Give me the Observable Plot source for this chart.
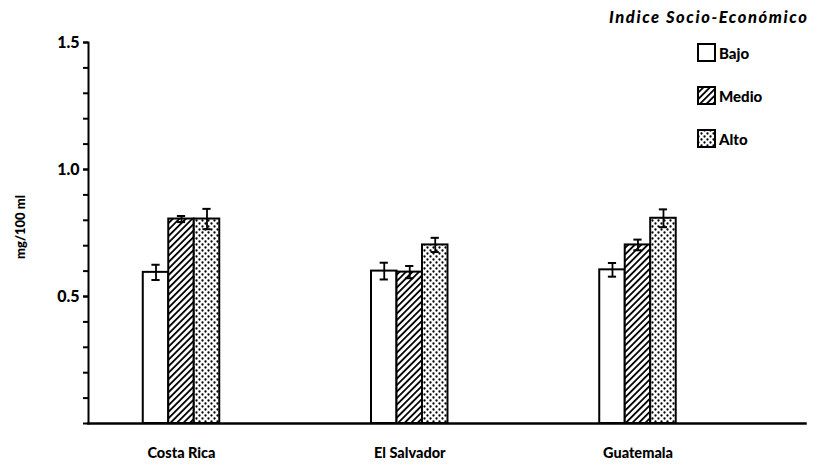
<!DOCTYPE html>
<html><head><meta charset="utf-8">
<script src="https://cdn.jsdelivr.net/npm/d3@7"></script>
<script src="https://cdn.jsdelivr.net/npm/@observablehq/plot@0.6"></script>
<style>
body{margin:0;background:#fff;}
#wrap{position:relative;width:815px;height:470px;font-family:Lato,"DejaVu Sans",sans-serif;color:#000;}
#legend{position:absolute;left:0;top:0;width:815px;height:160px;pointer-events:none;}
#legend .title{position:absolute;left:609px;top:7px;font-size:16.5px;font-weight:900;font-style:italic;letter-spacing:1.6px;white-space:nowrap;}
#legend .item{position:absolute;left:697px;display:flex;align-items:center;font-size:15px;font-weight:900;white-space:nowrap;}
#legend .item svg{margin-right:3px;}
</style></head><body>
<div id="wrap"><div id="legend"></div></div>
<script>
// ---- data ----
const countries = ["Costa Rica", "El Salvador", "Guatemala"];
const levels = ["Bajo", "Medio", "Alto"];
const bajo  = [0.595, 0.600, 0.605];
const medio = [0.805, 0.596, 0.703];
const alto  = [0.805, 0.703, 0.808];
const bajoErr  = [0.030, 0.033, 0.027];
const medioErr = [0.012, 0.024, 0.021];
const altoErr  = [0.040, 0.028, 0.035];
const yLabelTicks = [0.5, 1.0, 1.5];
const yMinorTicks = d3.range(0, 16).map(d => d / 10);
const legendTitle = "Indice Socio-Económico";
const yLabel = "mg/100 ml";

const values = [bajo, medio, alto];
const errors = [bajoErr, medioErr, altoErr];
const fills = ["white", "url(#hatchMedio)", "url(#dotsAlto)"];
const bw = 0.1117;   // bar width in group units
const cap = 0.018;   // half cap width

const rows = countries.flatMap((c, i) => levels.map((l, j) => ({
  country: c, ci: i, level: l, lj: j,
  value: values[j][i], err: errors[j][i], fill: fills[j],
  cx: i + (j - 1) * bw
})));

const svg = Plot.plot({
  width: 815, height: 470,
  marginLeft: 88, marginRight: 10, marginTop: 42, marginBottom: 47,
  style: {fontFamily: "Lato, 'DejaVu Sans', sans-serif", fontWeight: 900, background: "white", color: "black", overflow: "visible"},
  x: {domain: [-0.4075, 2.734], axis: null},
  y: {domain: [0, 1.5], axis: null},
  color: {type: "identity"},
  marks: [
    Plot.rectY(rows, {x1: d => d.cx - bw / 2, x2: d => d.cx + bw / 2, y1: 0, y2: "value", fill: "fill", stroke: "black", strokeWidth: 2}),
    Plot.ruleX(rows, {x: "cx", y1: d => d.value - d.err, y2: d => d.value + d.err, stroke: "black", strokeWidth: 1.8}),
    Plot.ruleY(rows, {x1: d => d.cx - cap, x2: d => d.cx + cap, y: d => d.value + d.err, stroke: "black", strokeWidth: 2}),
    Plot.ruleY(rows, {x1: d => d.cx - cap, x2: d => d.cx + cap, y: d => d.value - d.err, stroke: "black", strokeWidth: 2}),
    Plot.frame({anchor: "left", stroke: "black", strokeWidth: 2}),
    Plot.frame({anchor: "bottom", stroke: "black", strokeWidth: 2.5}),
    Plot.axisY(yMinorTicks, {tickSize: 5, tickFormat: () => "", strokeWidth: 2, label: null}),
    Plot.axisY(yLabelTicks, {tickSize: 5, tickPadding: 4, strokeWidth: 2, tickFormat: d3.format(".1f"), fontSize: 16, label: null}),
    Plot.text([yLabel], {frameAnchor: "left", rotate: -90, dx: -68, dy: 26, fontSize: 13, fontWeight: 900}),
    Plot.axisX(countries.map((c, i) => i), {tickSize: 0, tickPadding: 24, tickFormat: i => countries[i], fontSize: 14.5, label: null})
  ]
});

d3.select(svg).insert("defs", ":first-child").html(`
  <pattern id="hatchMedio" patternUnits="userSpaceOnUse" width="4.6" height="4.6" patternTransform="rotate(45)">
    <rect width="4.6" height="4.6" fill="white"/>
    <line x1="0" y1="0" x2="0" y2="4.6" stroke="black" stroke-width="3.6"/>
  </pattern>
  <pattern id="dotsAlto" patternUnits="userSpaceOnUse" width="6" height="6">
    <rect width="6" height="6" fill="white"/>
    <circle cx="1.5" cy="1.5" r="1.15" fill="black"/>
    <circle cx="4.5" cy="4.5" r="1.15" fill="black"/>
  </pattern>`);

const wrap = document.getElementById("wrap");
wrap.insertBefore(svg, wrap.firstChild);

// legend
const legend = document.getElementById("legend");
const t = document.createElement("div");
t.className = "title"; t.textContent = legendTitle;
legend.appendChild(t);
levels.forEach((l, j) => {
  const it = document.createElement("div");
  it.className = "item";
  it.style.top = (43 + j * 43) + "px";
  it.innerHTML = `<svg width="19" height="19"><rect x="1" y="1" width="17" height="17" fill="${fills[j]}" stroke="black" stroke-width="2"/></svg><span>${l}</span>`;
  legend.appendChild(it);
});
</script>
</body></html>
